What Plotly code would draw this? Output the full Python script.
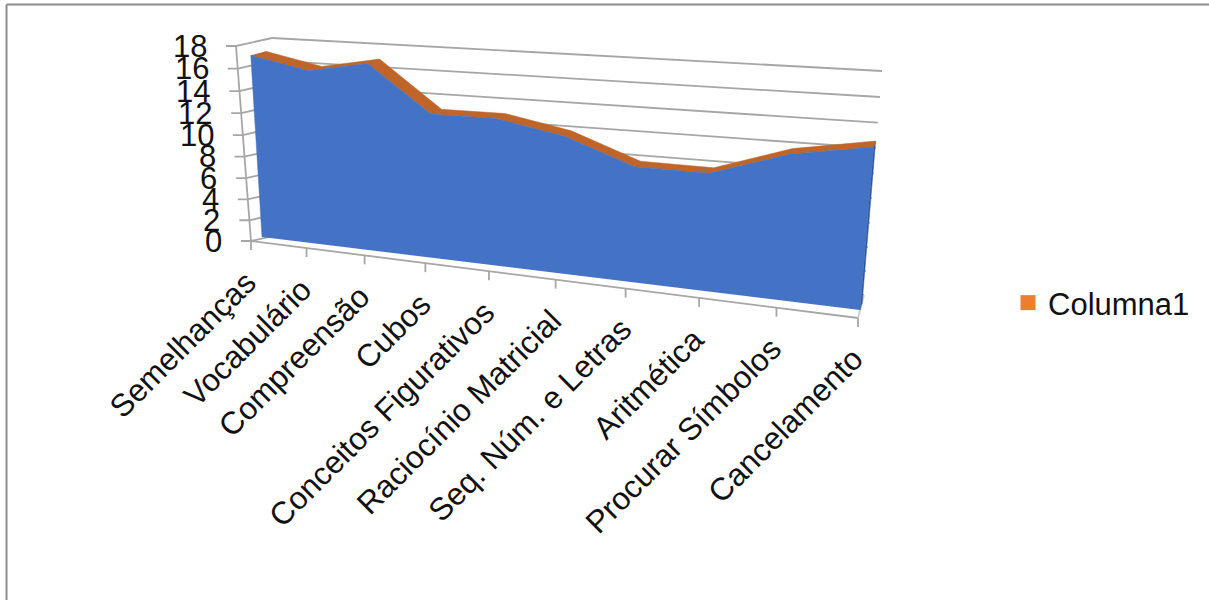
import numpy as np
import plotly.graph_objects as go

# Chart data
categories = ["Semelhanças", "Vocabulário", "Compreensão", "Cubos", "Conceitos Figurativos",
              "Raciocínio Matricial", "Seq. Núm. e Letras", "Aritmética", "Procurar Símbolos", "Cancelamento"]
scores = [16.9, 15.8, 16.7, 12.7, 12.7, 11.65, 9.6, 9.55, 11.5, 12.5]
value_ticks = [0, 2, 4, 6, 8, 10, 12, 14, 16, 18]
series_name = "Columna1"

VALUE_MAX = 18
FONT = "Liberation Sans, Arial, sans-serif"
GRID = "#a6a6a6"
BLUE = "#4472c4"
BLUE_SIDE = "#2f5597"
RIBBON = "#c0652a"
ORANGE = "#ed7d31"


def plane(bl, br, tr, tl):
    """Perspective map from (category index, value) to the page for one depth plane."""
    (x0, y0), (x1, y1), (x2, y2), (x3, y3) = bl, br, tr, tl
    a = np.array([[x1 - x2, x3 - x2], [y1 - y2, y3 - y2]], float)
    b = np.array([x0 - x1 + x2 - x3, y0 - y1 + y2 - y3], float)
    g, h = np.linalg.solve(a, b)
    m = np.array([[x1 - x0 + g * x1, x3 - x0 + h * x3, x0],
                  [y1 - y0 + g * y1, y3 - y0 + h * y3, y0],
                  [g, h, 1.0]])

    def project(i, v):
        p = m @ np.array([i / (len(categories) - 1), v / VALUE_MAX, 1.0])
        return p[0] / p[2], p[1] / p[2]
    return project


# Depth planes of the 3-D box, front to back
axis_plane = plane((251, 241), (858, 318), (878, 78), (236, 46))
face_plane = plane((262, 237), (860, 310), (880, 71), (250, 43))
rear_plane = plane((277, 232), (862, 304), (882, 65), (265, 39))
wall_plane = plane((282, 234), (864, 295), (882, 71), (272, 38))


def path(proj, pairs):
    pts = [proj(i, v) for i, v in pairs]
    return [p[0] for p in pts], [p[1] for p in pts]


fig = go.Figure()


def line(xs, ys, color=GRID, width=1.8):
    fig.add_trace(go.Scatter(x=xs, y=ys, mode="lines", line=dict(color=color, width=width),
                             hoverinfo="skip", showlegend=False))


def poly(xs, ys, color):
    fig.add_trace(go.Scatter(x=xs, y=ys, mode="lines", fill="toself", fillcolor=color,
                             line=dict(color=color, width=0.5),
                             hoverinfo="skip", showlegend=False))


n = len(categories)

# Back wall gridlines and side wall lines
for v in value_ticks:
    line(*path(wall_plane, [(0, v), (n - 1, v)]))
    ax, ay = axis_plane(0, v)
    wx, wy = wall_plane(0, v)
    line([ax - 10, ax, wx], [ay, ay, wy])

# Value axis and floor edges
line(*path(axis_plane, [(0, 0), (0, VALUE_MAX)]))
fx, fy = axis_plane(n - 1, 0)
rx, ry = wall_plane(n - 1, 0)
line(*path(axis_plane, [(0, 0), (n - 1, 0)]))
line([fx, rx], [fy, ry], color="#c8c8c8")

# Category ticks and labels
annotations = []
for i, name in enumerate(categories):
    x, y = axis_plane(i, 0)
    line([x, x], [y, y + 9])
    annotations.append(dict(x=x + 15, y=y + 20, text=name, textangle=-45, showarrow=False,
                            xanchor="right", yanchor="top", xref="x", yref="y",
                            font=dict(family=FONT, size=31.5, color="#111111")))

# Value labels
for v in value_ticks:
    x, y = axis_plane(0, v)
    annotations.append(dict(x=x - 27, y=y, text=str(v), showarrow=False,
                            xanchor="right", yanchor="middle", xref="x", yref="y",
                            font=dict(family=FONT, size=31, color="#111111")))

# Area: right side, top ribbon, then front face
last = n - 1
side = [(last, 0), (last, scores[last])]
sx1, sy1 = path(face_plane, side)
sx2, sy2 = path(rear_plane, side[::-1])
poly(sx1 + sx2, sy1 + sy2, BLUE_SIDE)

top = list(enumerate(scores))
tx1, ty1 = path(face_plane, top)
tx2, ty2 = path(rear_plane, top[::-1])
poly(tx1 + tx2, ty1 + ty2, RIBBON)

fx_, fy_ = path(face_plane, [(0, 0)] + top + [(last, 0)])
poly(fx_, fy_, BLUE)

# Legend entry
fig.add_trace(go.Scatter(x=[None], y=[None], mode="markers", name=series_name,
                         marker=dict(symbol="square", size=15, color=ORANGE)))

fig.update_layout(
    width=1209, height=600, margin=dict(l=0, r=0, t=0, b=0),
    paper_bgcolor="white", plot_bgcolor="white",
    xaxis=dict(range=[0, 1209], visible=False, fixedrange=True),
    yaxis=dict(range=[600, 0], visible=False, fixedrange=True),
    annotations=annotations,
    legend=dict(x=1008 / 1209, y=1 - 303 / 600, xanchor="left", yanchor="middle",
                font=dict(family=FONT, size=31, color="#111111"),
                bgcolor="rgba(0,0,0,0)", itemclick=False, itemdoubleclick=False),
    shapes=[
        dict(type="line", xref="paper", yref="paper", x0=6.5 / 1209, x1=6.5 / 1209,
             y0=0, y1=1 - 4.5 / 600, line=dict(color="#8c8c8c", width=2)),
        dict(type="line", xref="paper", yref="paper", x0=6.5 / 1209, x1=1,
             y0=1 - 4.5 / 600, y1=1 - 4.5 / 600, line=dict(color="#8c8c8c", width=2)),
    ],
)

fig.write_html("out.html", config=dict(displayModeBar=False))
